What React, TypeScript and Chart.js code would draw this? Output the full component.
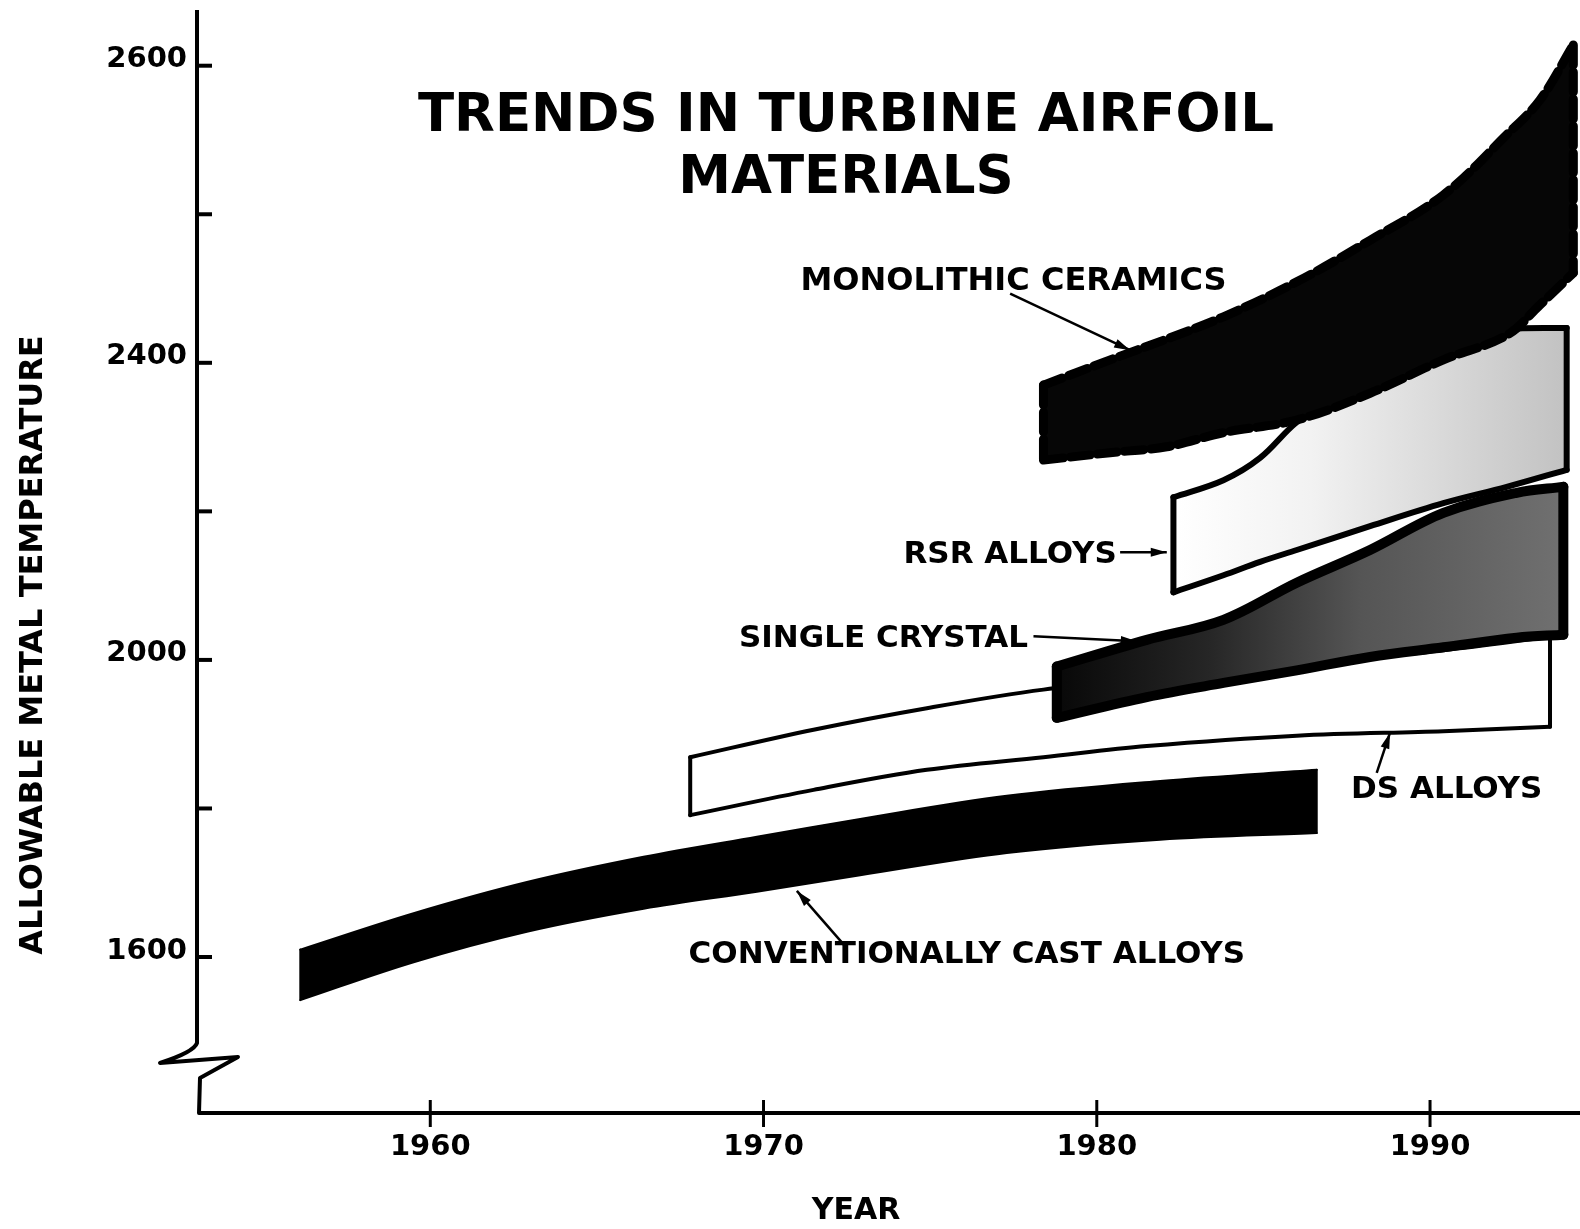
import React, { useEffect, useRef } from 'react';
import { Chart, registerables } from 'chart.js';

Chart.register(...registerables);

// ---- axis ticks ----
const xTickYears = [1960, 1970, 1980, 1990];
const yTickValues = [1600, 1800, 2000, 2200, 2400, 2600, 2800];
const yTickLabels = ['1600', '', '2000', '', '2400', '', '2600'];

// ---- conventionally cast alloys ----
const ccYears = [1956.1, 1959.5, 1962.9, 1966.4, 1969.8, 1972.9, 1977.3, 1981.9, 1986.6];
const ccUpper = [1610, 1659, 1701, 1735, 1762, 1786, 1817, 1837, 1852];
const ccLower = [1542, 1593, 1634, 1665, 1688, 1710, 1740, 1758, 1767];

// ---- DS alloys ----
const dsYears = [1967.8, 1971.5, 1974.9, 1978.4, 1981.5, 1986.0, 1990.4, 1993.6];
const dsUpper = [1869, 1906, 1935, 1960, 1973, 1993, 2013, 2031];
const dsLower = [1791, 1825, 1852, 1869, 1884, 1898, 1904, 1910];

// ---- single crystal ----
const scYears = [1978.8, 1981.5, 1983.8, 1986.0, 1988.2, 1990.4, 1992.6, 1994.0];
const scUpper = [1991, 2027, 2054, 2104, 2148, 2198, 2225, 2233];
const scLower = [1922, 1950, 1969, 1986, 2004, 2017, 2030, 2034];

// ---- RSR alloys ----
const rsrYears = [1982.3, 1983.8, 1984.9, 1986.0, 1988.2, 1990.4, 1992.3, 1994.1];
const rsrUpper = [2219, 2242, 2272, 2320, 2390, 2430, 2445, 2447];
const rsrLower = [2091, 2114, 2132, 2148, 2180, 2211, 2233, 2256];

// ---- monolithic ceramics ----
const mcYears = [1978.4, 1980.4, 1982.1, 1983.8, 1986.0, 1988.2, 1990.4, 1992.3, 1993.3, 1994.3];
const mcUpper = [2370, 2404, 2432, 2462, 2509, 2565, 2626, 2707, 2754, 2828];
const mcLower = [2269, 2279, 2287, 2306, 2323, 2359, 2404, 2437, 2478, 2521];

// ---- annotations ----
const labelTexts = ['MONOLITHIC CERAMICS', 'RSR ALLOYS', 'SINGLE CRYSTAL', 'DS ALLOYS', 'CONVENTIONALLY CAST ALLOYS'];
const labelYears = [1977.5, 1977.4, 1973.6, 1990.5, 1976.1];
const labelValues = [2498, 2130, 2017, 1814, 1592];
const leaderFromYears = [1977.4, 1980.7, 1978.1, 1988.4, 1972.5];
const leaderFromValues = [2493, 2145, 2032, 1848, 1612];
const leaderToYears = [1981.0, 1982.1, 1981.2, 1988.8, 1971.0];
const leaderToValues = [2417, 2145, 2025, 1902, 1689];

const titleLines = ['TRENDS IN TURBINE AIRFOIL', 'MATERIALS'];
const yAxisTitle = 'ALLOWABLE METAL TEMPERATURE';
const xAxisTitle = 'YEAR';

const FONT = '"DejaVu Sans", "Liberation Sans", Arial, sans-serif';

function hGradient(stops: [number, string][], fromYear: number, toYear: number) {
  return (c: any) => {
    const chart = c.chart;
    if (!chart.chartArea) return stops[stops.length - 1][1];
    const xs = chart.scales.x;
    const g = chart.ctx.createLinearGradient(xs.getPixelForValue(fromYear), 0, xs.getPixelForValue(toYear), 0);
    stops.forEach(([o, col]) => g.addColorStop(o, col));
    return g;
  };
}

function buildDatasets() {
  const datasets: any[] = [];
  const addBand = (
    name: string,
    years: number[],
    upper: number[],
    lower: number[],
    fillColor: any,
    borderWidth: number,
    borderDash: number[],
    baseOrder: number
  ) => {
    const line = {
      pointRadius: 0,
      pointHoverRadius: 0,
      borderColor: '#000',
      borderWidth,
      borderDash,
      borderCapStyle: 'round',
      borderJoinStyle: 'round',
      tension: 0.35,
    };
    const last = years.length - 1;
    const lowerIdx = datasets.length;
    datasets.push({ ...line, label: name + ' (lower)', data: years.map((x, i) => ({ x, y: lower[i] })), fill: false, order: baseOrder + 1 });
    datasets.push({
      ...line,
      label: name + ' (upper)',
      data: years.map((x, i) => ({ x, y: upper[i] })),
      fill: lowerIdx,
      backgroundColor: fillColor,
      order: baseOrder + 2,
    });
    datasets.push({ ...line, label: name + ' (start)', data: [{ x: years[0], y: upper[0] }, { x: years[0], y: lower[0] }], fill: false, order: baseOrder });
    datasets.push({ ...line, label: name + ' (end)', data: [{ x: years[last], y: upper[last] }, { x: years[last], y: lower[last] }], fill: false, order: baseOrder });
  };
  addBand('Monolithic ceramics', mcYears, mcUpper, mcLower, '#060606', 9, [20, 7], 0);
  addBand(
    'RSR alloys',
    rsrYears,
    rsrUpper,
    rsrLower,
    hGradient([[0, '#ffffff'], [0.35, '#f2f2f2'], [0.75, '#d4d4d4'], [1, '#c2c2c2']], 1982.3, 1994.1),
    6,
    [],
    10
  );
  addBand(
    'Single crystal',
    scYears,
    scUpper,
    scLower,
    hGradient([[0, '#080808'], [0.3, '#262626'], [0.6, '#555555'], [1, '#707070']], 1978.8, 1994.0),
    10,
    [],
    20
  );
  addBand('Conventionally cast alloys', ccYears, ccUpper, ccLower, '#000', 2, [], 30);
  addBand('DS alloys', dsYears, dsUpper, dsLower, '#fff', 4, [], 40);
  return datasets;
}

function arrow(ctx: CanvasRenderingContext2D, x1: number, y1: number, x2: number, y2: number) {
  ctx.lineWidth = 2.5;
  ctx.beginPath();
  ctx.moveTo(x1, y1);
  ctx.lineTo(x2, y2);
  ctx.stroke();
  const a = Math.atan2(y2 - y1, x2 - x1);
  const len = 16;
  const w = 4.5;
  ctx.beginPath();
  ctx.moveTo(x2, y2);
  ctx.lineTo(x2 - len * Math.cos(a) + w * Math.sin(a), y2 - len * Math.sin(a) - w * Math.cos(a));
  ctx.lineTo(x2 - len * Math.cos(a) - w * Math.sin(a), y2 - len * Math.sin(a) + w * Math.cos(a));
  ctx.closePath();
  ctx.fill();
}

const decor = {
  id: 'decor',
  afterDraw(chart: any) {
    const { ctx, chartArea } = chart;
    const xs = chart.scales.x;
    const ys = chart.scales.y;
    const L = chartArea.left;
    const R = chartArea.right;
    const T = chartArea.top;
    const B = chartArea.bottom;
    ctx.save();
    ctx.strokeStyle = '#000';
    ctx.fillStyle = '#000';

    // axes with break
    ctx.lineWidth = 4;
    ctx.lineJoin = 'round';
    ctx.lineCap = 'butt';
    ctx.beginPath();
    ctx.moveTo(L, T);
    ctx.lineTo(L, B - 70);
    ctx.quadraticCurveTo(L - 3, B - 61, L - 37, B - 50);
    ctx.lineTo(L + 41, B - 56);
    ctx.lineTo(L + 3, B - 35);
    ctx.lineTo(L + 2, B);
    ctx.lineTo(R, B);
    ctx.stroke();

    // tick marks
    ctx.lineWidth = 4;
    yTickValues.forEach((v) => {
      const y = ys.getPixelForValue(v);
      ctx.beginPath();
      ctx.moveTo(L, y);
      ctx.lineTo(L + 15, y);
      ctx.stroke();
    });
    ctx.lineWidth = 3;
    xTickYears.forEach((v) => {
      const x = xs.getPixelForValue(v);
      ctx.beginPath();
      ctx.moveTo(x, B - 13);
      ctx.lineTo(x, B + 14);
      ctx.stroke();
    });

    // title
    ctx.textAlign = 'center';
    ctx.textBaseline = 'alphabetic';
    ctx.font = `bold 53px ${FONT}`;
    ctx.fillText(titleLines[0], L + 649, T + 121);
    ctx.fillText(titleLines[1], L + 649, T + 183);

    // band labels + leaders
    labelTexts.forEach((t, i) => {
      ctx.font = `bold ${i === 0 ? 32 : 31}px ${FONT}`;
      ctx.fillText(t, xs.getPixelForValue(labelYears[i]), ys.getPixelForValue(labelValues[i]));
      arrow(
        ctx,
        xs.getPixelForValue(leaderFromYears[i]),
        ys.getPixelForValue(leaderFromValues[i]),
        xs.getPixelForValue(leaderToYears[i]),
        ys.getPixelForValue(leaderToValues[i])
      );
    });

    // axis titles
    ctx.font = `bold 30px ${FONT}`;
    ctx.fillText(xAxisTitle, L + 659, B + 106);

    ctx.save();
    ctx.translate(L - 155, T + 635);
    ctx.rotate(-Math.PI / 2);
    ctx.font = `bold 32px ${FONT}`;
    ctx.fillText(yAxisTitle, 0, 0);
    ctx.restore();

    ctx.restore();
  },
};

export default function App() {
  const ref = useRef<HTMLCanvasElement>(null);

  useEffect(() => {
    const canvas = ref.current;
    if (!canvas) return;
    const chart = new Chart(canvas, {
      type: 'line',
      data: { datasets: buildDatasets() } as any,
      options: {
        responsive: false,
        animation: false,
        devicePixelRatio: 1,
        layout: { padding: { top: 10, left: 0, right: 0, bottom: 0 } },
        plugins: {
          legend: { display: false },
          tooltip: { enabled: false },
          title: { display: false },
        },
        scales: {
          x: {
            type: 'linear',
            min: 1953,
            max: 1994.5,
            afterBuildTicks: (s: any) => {
              s.ticks = xTickYears.map((v) => ({ value: v }));
            },
            afterFit: (s: any) => {
              s.height = 116;
              s.paddingLeft = 0;
              s.paddingRight = 0;
            },
            grid: { display: false, drawTicks: false },
            border: { display: false },
            ticks: {
              callback: (v: any) => String(v),
              font: { family: FONT, weight: 'bold', size: 29 },
              color: '#000',
              padding: 17,
              maxRotation: 0,
              autoSkip: false,
            },
          },
          y: {
            type: 'linear',
            min: 1390,
            max: 2875,
            afterBuildTicks: (s: any) => {
              s.ticks = yTickValues.map((v) => ({ value: v }));
            },
            afterFit: (s: any) => {
              s.width = 197;
              s.paddingTop = 0;
              s.paddingBottom = 0;
            },
            grid: { display: false, drawTicks: false },
            border: { display: false },
            ticks: {
              callback: (v: any) => {
                const i = yTickValues.indexOf(Number(v));
                return i >= 0 ? yTickLabels[i] : '';
              },
              font: { family: FONT, weight: 'bold', size: 29 },
              color: '#000',
              padding: 10,
              labelOffset: -6,
              autoSkip: false,
            },
          },
        },
      } as any,
      plugins: [decor],
    });
    return () => chart.destroy();
  }, []);

  return (
    <div style={{ position: 'absolute', left: 0, top: 0, width: 1580, height: 1229, background: '#fff' }}>
      <canvas ref={ref} width={1580} height={1229} style={{ display: 'block' }} />
    </div>
  );
}
